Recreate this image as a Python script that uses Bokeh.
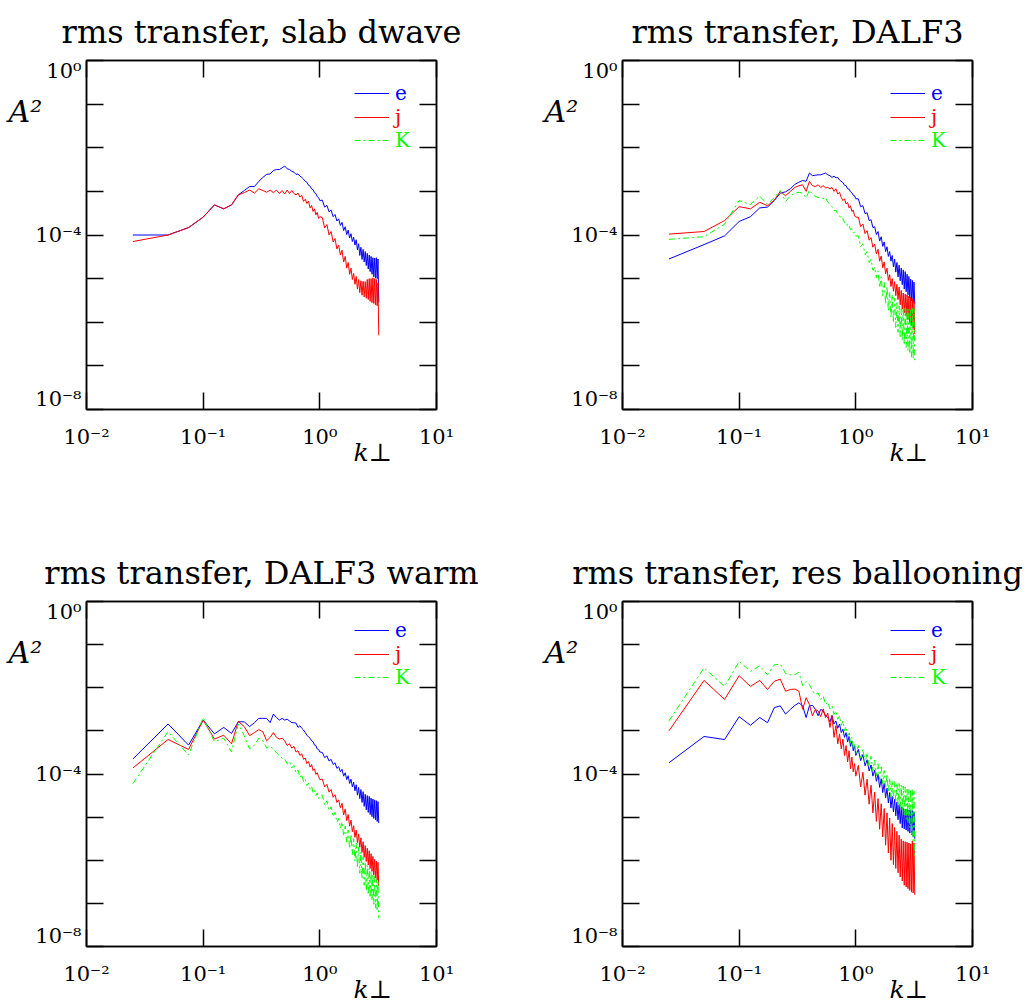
import math
from bokeh.plotting import figure
from bokeh.models import (Axis, LogAxis, FixedTicker, CustomJSTickFormatter,
                          Legend, LegendItem, Range1d)
from bokeh.layouts import column, row
from bokeh.embed import file_html
from bokeh.resources import INLINE

# ---------------- data ----------------
k_perp = [0.025, 0.05, 0.075, 0.1, 0.125, 0.15, 0.175, 0.2, 0.225, 0.25,
          0.275, 0.3, 0.325, 0.35, 0.375, 0.4, 0.425, 0.45, 0.475, 0.5,
          0.525, 0.55, 0.575, 0.6, 0.625, 0.65, 0.675, 0.7, 0.725, 0.75,
          0.775, 0.8, 0.825, 0.85, 0.875, 0.9, 0.925, 0.95, 0.975, 1.0,
          1.05, 1.1, 1.15, 1.2, 1.25, 1.3, 1.35, 1.4, 1.45, 1.5,
          1.55, 1.6, 1.65, 1.7, 1.75, 1.8, 1.85, 1.9, 1.95, 2.0,
          2.05, 2.1, 2.15, 2.2, 2.25, 2.3, 2.35, 2.4, 2.45, 2.5,
          2.55, 2.6, 2.65, 2.7, 2.75, 2.8, 2.85, 2.9, 2.95, 3.0,
          3.05, 3.1, 3.15, 3.2]

# log10(A^2) values
e_slab = [-4.00, -4.00, -3.83, -3.59, -3.31, -3.40, -3.31, -3.08, -2.98, -2.89,
          -2.89, -2.77, -2.68, -2.61, -2.60, -2.52, -2.50, -2.50, -2.46, -2.42,
          -2.48, -2.50, -2.54, -2.56, -2.61, -2.60, -2.65, -2.68, -2.72, -2.77,
          -2.79, -2.86, -2.88, -2.94, -2.96, -3.03, -3.05, -3.12, -3.14, -3.21,
          -3.20, -3.36, -3.32, -3.47, -3.43, -3.58, -3.53, -3.68, -3.63, -3.78,
          -3.71, -3.90, -3.81, -3.99, -3.89, -4.07, -3.97, -4.15, -4.05, -4.23,
          -4.11, -4.34, -4.20, -4.47, -4.28, -4.56, -4.33, -4.62, -4.38, -4.70,
          -4.42, -4.78, -4.46, -4.84, -4.49, -4.90, -4.52, -4.96, -4.53, -4.99,
          -4.52, -5.00, -4.55, -5.54]
j_slab = [-4.15, -4.00, -3.83, -3.59, -3.31, -3.40, -3.31, -3.08, -3.03, -2.97,
          -3.04, -2.94, -2.98, -3.02, -2.97, -3.03, -2.97, -3.05, -2.98, -3.06,
          -2.97, -3.05, -2.98, -3.05, -3.08, -3.04, -3.13, -3.09, -3.23, -3.18,
          -3.28, -3.22, -3.38, -3.32, -3.46, -3.40, -3.54, -3.48, -3.62, -3.58,
          -3.60, -3.84, -3.76, -4.00, -3.92, -4.16, -4.08, -4.32, -4.23, -4.46,
          -4.35, -4.62, -4.49, -4.76, -4.63, -4.90, -4.76, -5.02, -4.88, -5.13,
          -4.95, -5.24, -5.02, -5.32, -5.05, -5.38, -5.06, -5.42, -5.07, -5.45,
          -5.02, -5.48, -5.00, -5.52, -5.00, -5.55, -4.98, -5.57, -5.00, -5.60,
          -5.02, -5.62, -5.10, -6.30]
K_slab = None  # no K curve is drawn in the slab panel, only its legend entry

e_dalf = [-4.55, -4.22, -4.02, -3.69, -3.58, -3.38, -3.36, -3.21, -3.04, -3.01,
          -2.94, -2.84, -2.79, -2.75, -2.77, -2.58, -2.64, -2.63, -2.62, -2.62,
          -2.60, -2.58, -2.62, -2.64, -2.68, -2.65, -2.69, -2.68, -2.74, -2.77,
          -2.80, -2.86, -2.87, -2.94, -2.95, -3.01, -3.03, -3.09, -3.10, -3.17,
          -3.17, -3.35, -3.33, -3.51, -3.49, -3.67, -3.65, -3.83, -3.81, -3.99,
          -3.92, -4.14, -4.04, -4.26, -4.16, -4.38, -4.27, -4.49, -4.38, -4.60,
          -4.47, -4.73, -4.55, -4.85, -4.63, -4.96, -4.69, -5.05, -4.76, -5.14,
          -4.80, -5.24, -4.84, -5.30, -4.90, -5.37, -4.95, -5.44, -5.01, -5.51,
          -5.04, -5.55, -5.08, -5.58]
j_dalf = [-3.98, -3.92, -3.67, -3.35, -3.40, -3.25, -3.33, -3.20, -3.00, -3.10,
          -3.00, -2.91, -2.87, -2.85, -3.00, -2.77, -2.87, -2.89, -2.85, -2.91,
          -2.87, -2.92, -2.91, -2.94, -2.91, -3.00, -2.94, -3.06, -3.02, -3.14,
          -3.21, -3.17, -3.29, -3.25, -3.38, -3.33, -3.46, -3.43, -3.56, -3.59,
          -3.59, -3.81, -3.75, -3.97, -3.90, -4.12, -4.06, -4.28, -4.21, -4.43,
          -4.33, -4.60, -4.48, -4.75, -4.62, -4.89, -4.76, -5.04, -4.91, -5.18,
          -5.00, -5.29, -5.07, -5.39, -5.13, -5.48, -5.19, -5.60, -5.27, -5.70,
          -5.33, -5.78, -5.35, -5.86, -5.37, -5.94, -5.40, -6.02, -5.43, -6.08,
          -5.46, -6.15, -5.52, -6.27]
K_dalf = [-4.10, -4.04, -3.75, -3.21, -3.30, -3.11, -3.30, -3.14, -2.98, -3.23,
          -3.10, -3.04, -3.02, -3.04, -3.15, -2.97, -3.06, -3.12, -3.14, -3.15,
          -3.17, -3.14, -3.25, -3.29, -3.35, -3.44, -3.43, -3.52, -3.56, -3.63,
          -3.62, -3.72, -3.70, -3.80, -3.78, -3.88, -3.86, -3.95, -3.94, -4.02,
          -4.02, -4.27, -4.20, -4.45, -4.38, -4.63, -4.56, -4.81, -4.74, -4.98,
          -4.82, -5.21, -4.96, -5.39, -5.08, -5.58, -5.18, -5.74, -5.30, -5.89,
          -5.36, -6.01, -5.45, -6.12, -5.55, -6.23, -5.62, -6.33, -5.69, -6.42,
          -5.68, -6.52, -5.67, -6.58, -5.69, -6.65, -5.70, -6.72, -5.72, -6.80,
          -5.66, -6.83, -5.70, -6.87]

e_warm = [-3.65, -2.84, -3.33, -2.75, -3.07, -2.92, -3.06, -2.79, -2.79, -2.90,
          -2.81, -2.71, -2.71, -2.71, -2.81, -2.61, -2.69, -2.75, -2.71, -2.75,
          -2.73, -2.77, -2.81, -2.81, -2.82, -2.92, -2.88, -2.94, -2.98, -3.04,
          -3.10, -3.14, -3.17, -3.23, -3.25, -3.33, -3.34, -3.42, -3.43, -3.49,
          -3.50, -3.62, -3.58, -3.70, -3.66, -3.78, -3.74, -3.87, -3.83, -3.95,
          -3.89, -4.05, -3.97, -4.13, -4.04, -4.22, -4.12, -4.30, -4.19, -4.39,
          -4.25, -4.49, -4.31, -4.57, -4.36, -4.66, -4.41, -4.75, -4.47, -4.83,
          -4.50, -4.89, -4.52, -4.94, -4.56, -4.99, -4.58, -5.03, -4.60, -5.06,
          -4.62, -5.10, -4.64, -5.14]
j_warm = [-3.86, -3.20, -3.43, -2.75, -3.19, -3.10, -3.30, -2.78, -2.90, -3.11,
          -3.04, -2.97, -3.02, -3.23, -3.15, -3.04, -3.15, -3.19, -3.17, -3.23,
          -3.34, -3.30, -3.40, -3.36, -3.49, -3.46, -3.57, -3.53, -3.66, -3.63,
          -3.76, -3.71, -3.84, -3.78, -3.92, -3.88, -4.01, -3.97, -4.06, -4.13,
          -4.12, -4.30, -4.24, -4.42, -4.36, -4.54, -4.48, -4.66, -4.60, -4.78,
          -4.68, -4.95, -4.81, -5.08, -4.94, -5.21, -5.07, -5.34, -5.20, -5.47,
          -5.30, -5.59, -5.39, -5.70, -5.48, -5.82, -5.57, -5.93, -5.66, -6.03,
          -5.72, -6.11, -5.78, -6.19, -5.85, -6.26, -5.91, -6.34, -5.98, -6.41,
          -6.02, -6.46, -6.05, -6.60]
K_warm = [-4.22, -3.02, -3.56, -2.69, -3.25, -3.17, -3.49, -2.84, -3.11, -3.42,
          -3.33, -3.17, -3.23, -3.40, -3.36, -3.42, -3.51, -3.57, -3.63, -3.65,
          -3.76, -3.71, -3.86, -3.80, -3.97, -3.91, -4.08, -4.01, -4.18, -4.12,
          -4.27, -4.21, -4.35, -4.29, -4.43, -4.37, -4.50, -4.44, -4.57, -4.50,
          -4.49, -4.72, -4.62, -4.85, -4.76, -4.99, -4.89, -5.12, -5.03, -5.26,
          -5.11, -5.44, -5.21, -5.58, -5.30, -5.73, -5.40, -5.87, -5.50, -6.02,
          -5.60, -6.17, -5.70, -6.30, -5.81, -6.44, -5.92, -6.58, -6.04, -6.71,
          -6.12, -6.80, -6.18, -6.87, -6.25, -6.94, -6.31, -7.02, -6.38, -7.10,
          -6.45, -7.18, -6.50, -7.34]

e_ball = [-3.74, -3.13, -3.20, -2.67, -2.87, -2.69, -2.81, -2.46, -2.42, -2.61,
          -2.50, -2.41, -2.35, -2.42, -2.69, -2.42, -2.41, -2.50, -2.65, -2.50,
          -2.54, -2.65, -2.69, -2.79, -2.64, -2.84, -2.77, -2.94, -2.84, -3.04,
          -2.96, -3.15, -3.04, -3.26, -3.13, -3.36, -3.23, -3.46, -3.34, -3.57,
          -3.43, -3.69, -3.55, -3.81, -3.67, -3.93, -3.79, -4.05, -3.91, -4.17,
          -4.01, -4.31, -4.11, -4.43, -4.22, -4.55, -4.33, -4.67, -4.43, -4.79,
          -4.52, -4.88, -4.59, -4.97, -4.65, -5.06, -4.71, -5.15, -4.76, -5.25,
          -4.80, -5.27, -4.81, -5.30, -4.82, -5.33, -4.83, -5.37, -4.84, -5.40,
          -4.85, -5.45, -4.88, -5.50]
j_ball = [-3.00, -1.83, -2.27, -1.72, -1.97, -1.83, -2.04, -1.85, -1.80, -2.08,
          -2.04, -2.03, -2.08, -2.50, -2.23, -2.39, -2.65, -2.50, -2.54, -2.67,
          -2.49, -2.69, -2.59, -2.92, -2.65, -3.15, -2.88, -3.30, -3.07, -3.42,
          -3.19, -3.57, -3.34, -3.72, -3.46, -3.88, -3.61, -3.95, -3.76, -4.05,
          -3.80, -4.30, -3.96, -4.49, -4.12, -4.70, -4.26, -4.90, -4.42, -5.10,
          -4.57, -5.28, -4.69, -5.46, -4.80, -5.65, -4.90, -5.83, -5.02, -6.00,
          -5.15, -6.10, -5.24, -6.19, -5.33, -6.29, -5.42, -6.39, -5.51, -6.48,
          -5.55, -6.58, -5.57, -6.62, -5.58, -6.66, -5.60, -6.70, -5.62, -6.74,
          -5.55, -6.76, -5.60, -6.80]
K_ball = [-2.77, -1.54, -1.97, -1.39, -1.62, -1.49, -1.70, -1.47, -1.45, -1.67,
          -1.70, -1.70, -1.64, -1.95, -1.85, -1.93, -2.06, -2.16, -2.12, -2.27,
          -2.19, -2.39, -2.33, -2.49, -2.42, -2.62, -2.54, -2.73, -2.65, -2.87,
          -2.77, -3.00, -2.90, -3.13, -3.02, -3.27, -3.15, -3.40, -3.28, -3.53,
          -3.34, -3.63, -3.42, -3.73, -3.51, -3.83, -3.59, -3.93, -3.68, -4.04,
          -3.76, -4.13, -3.84, -4.23, -3.92, -4.33, -4.00, -4.43, -4.09, -4.53,
          -4.15, -4.58, -4.18, -4.66, -4.20, -4.73, -4.22, -4.80, -4.25, -4.86,
          -4.28, -4.95, -4.30, -5.05, -4.32, -5.15, -4.34, -5.25, -4.35, -5.40,
          -4.36, -5.55, -4.40, -5.90]

panel_titles = ["rms transfer, slab dwave", "rms transfer, DALF3",
                "rms transfer, DALF3 warm", "rms transfer, res ballooning"]
panel_curves = [[e_slab, j_slab, K_slab],
                [e_dalf, j_dalf, K_dalf],
                [e_warm, j_warm, K_warm],
                [e_ball, j_ball, K_ball]]

series_names = ["e", "j", "K"]
series_colors = ["#0000ff", "#ff0000", "#00ff00"]
series_dash = ["solid", "solid", "6 3 2 3"]

x_ticks = [1e-2, 1e-1, 1e0, 1e1]
y_ticks = [1e-8, 1e-7, 1e-6, 1e-5, 1e-4, 1e-3, 1e-2, 1e-1, 1e0]
y_label_every = 4
y_axis_name = "A\u00b2"
x_axis_name = "k\u22a5"

# ---------------- styling / layout ----------------
SERIF = "DejaVu Serif"
NBSP = "\u00a0"

SUP_JS = """
const sup = {"-": "\\u207b", "0": "\\u2070", "1": "\\u00b9", "2": "\\u00b2", "3": "\\u00b3",
             "4": "\\u2074", "5": "\\u2075", "6": "\\u2076", "7": "\\u2077", "8": "\\u2078", "9": "\\u2079"};
const e = Math.round(Math.log10(tick));
const s = "10" + String(e).split("").map(c => sup[c]).join("");
"""
X_CODE = SUP_JS + "return s;"
# labelled y ticks: the top one sits just below its tick, the bottom one just above
Y_CODE = SUP_JS + ("if (Math.abs(e) %% %d != 0) return \"\";\n" % y_label_every) + """
if (index == ticks.length - 1) return "\\n" + s;
if (index == 0) return s + "\\n";
return s;
"""
EMPTY_CODE = 'return "";'

AXIS_PROPS = Axis.properties()


def style_axis(ax, ticks, code, standoff):
    ax.ticker = FixedTicker(ticks=ticks, minor_ticks=[])
    ax.formatter = CustomJSTickFormatter(code=code)
    ax.axis_line_color = "black"
    ax.axis_line_width = 1.5
    ax.major_tick_in = 17
    ax.major_tick_out = 0
    ax.major_tick_line_color = "black"
    ax.major_tick_line_width = 1.5
    ax.minor_tick_line_color = None
    ax.major_label_text_font = SERIF
    ax.major_label_text_font_size = "21px"
    ax.major_label_text_color = "black"
    ax.major_label_standoff = standoff


def make_panel(title, curves, width, height, border_right, border_bottom):
    p = figure(width=width, height=height, x_axis_type="log", y_axis_type="log",
               x_range=Range1d(1e-2, 1e1), y_range=Range1d(1e-8, 1e0),
               output_backend="svg", toolbar_location=None,
               min_border_left=86, min_border_right=border_right,
               min_border_top=60, min_border_bottom=border_bottom)
    p.xgrid.visible = False
    p.ygrid.visible = False
    p.outline_line_color = "black"
    p.outline_line_width = 1.5
    p.background_fill_color = "white"
    p.border_fill_color = "white"

    xax, yax = p.xaxis[0], p.yaxis[0]
    style_axis(xax, x_ticks, X_CODE, 15)
    style_axis(yax, y_ticks, Y_CODE, 5)
    yax.major_label_text_line_height = 0.85
    top = LogAxis()
    style_axis(top, x_ticks, EMPTY_CODE, 0)
    top.major_label_text_font_size = "1px"
    p.add_layout(top, "above")
    right = LogAxis()
    style_axis(right, y_ticks, EMPTY_CODE, 0)
    right.major_label_text_font_size = "1px"
    p.add_layout(right, "right")

    p.title.text = title
    p.title.align = "center"
    p.title.text_font = SERIF
    p.title.text_font_size = "32px"
    p.title.text_font_style = "normal"
    p.title.text_color = "black"
    p.title.standoff = 20

    renderers = []
    for logs, color, dash in zip(curves, series_colors, series_dash):
        if logs is None:
            ys = [float("nan")] * len(k_perp)
        else:
            ys = [10.0 ** v for v in logs]
        renderers.append(p.line(k_perp, ys, line_color=color, line_width=1, line_dash=dash))

    for i, (name, r, color) in enumerate(zip(series_names, renderers, series_colors)):
        leg = Legend(items=[LegendItem(label=name, renderers=[r])],
                     location=(268, 304 - i * 23.5),
                     glyph_width=35, glyph_height=20, label_height=20,
                     label_standoff=6, padding=0, margin=0, spacing=0,
                     border_line_color=None, background_fill_alpha=0,
                     label_text_font=SERIF, label_text_font_size="20px",
                     label_text_color=color, label_text_baseline="middle")
        p.add_layout(leg)

    # axis names: A^2 horizontal near the top of the y axis, k_perp right of centre below the x axis
    yax.axis_label = "\n\n" + y_axis_name
    xax.axis_label = NBSP * 28 + x_axis_name
    for ax in (yax, xax):
        ax.axis_label_text_font = SERIF
        ax.axis_label_text_font_style = "italic"
        ax.axis_label_text_color = "black"
    yax.axis_label_text_font_size = "30px"
    yax.axis_label_text_line_height = 1.45
    xax.axis_label_text_font_size = "25px"
    if "axis_label_orientation" in AXIS_PROPS:
        yax.axis_label_orientation = "horizontal"
    if "axis_label_align" in AXIS_PROPS:
        yax.axis_label_align = "end"
        xax.axis_label_align = "center"
    yax.axis_label_standoff = -10
    xax.axis_label_standoff = -14
    return p


p1 = make_panel(panel_titles[0], panel_curves[0], 536, 541, 100, 132)
p2 = make_panel(panel_titles[1], panel_curves[1], 499, 541, 63, 132)
p3 = make_panel(panel_titles[2], panel_curves[2], 536, 465, 100, 56)
p4 = make_panel(panel_titles[3], panel_curves[3], 499, 465, 63, 56)

layout = column(row(p1, p2), row(p3, p4))
open("out.html", "w").write(file_html(layout, INLINE, title="rms transfer"))
